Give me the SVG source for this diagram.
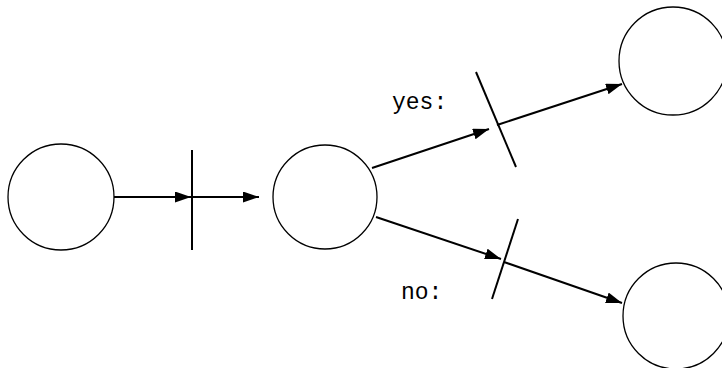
<svg xmlns="http://www.w3.org/2000/svg" width="722" height="368" viewBox="0 0 722 368">
<style>
.node{fill:#fff;stroke:#000;stroke-width:1.3}
.edge{fill:none;stroke:#000;stroke-width:2}
.bar{fill:none;stroke:#000;stroke-width:2}
.lbl{font-family:"Liberation Mono","Courier New",monospace;font-size:23px;fill:#000}
</style>
<defs>
<marker id="arr" markerUnits="userSpaceOnUse" markerWidth="16" markerHeight="12" refX="16" refY="5.5" orient="auto">
<path d="M0,0 L16,5.5 L0,11 z" fill="#000"/>
</marker>
</defs>
<g id="n1"><circle class="node" cx="61" cy="197" r="53"/></g>
<g id="n2"><circle class="node" cx="325" cy="197" r="52"/></g>
<g id="n3"><circle class="node" cx="673" cy="61" r="54"/></g>
<g id="n4"><circle class="node" cx="676" cy="316" r="53"/></g>
<g id="t1"><line class="bar" x1="192" y1="150" x2="192" y2="250"/></g>
<g id="t2"><line class="bar" x1="476" y1="72" x2="516" y2="167"/><text class="lbl" x="392" y="109">yes:</text></g>
<g id="t3"><line class="bar" x1="518" y1="219" x2="492" y2="299"/><text class="lbl" x="401" y="299">no:</text></g>
<g id="connectors">
<line class="edge" x1="114" y1="197" x2="191" y2="197" marker-end="url(#arr)"/>
<line class="edge" x1="192" y1="197" x2="259" y2="197" marker-end="url(#arr)"/>
<line class="edge" x1="372" y1="168" x2="489" y2="129" marker-end="url(#arr)"/>
<line class="edge" x1="497" y1="125" x2="622" y2="84" marker-end="url(#arr)"/>
<line class="edge" x1="376" y1="217" x2="501" y2="259" marker-end="url(#arr)"/>
<line class="edge" x1="504" y1="262" x2="622" y2="303" marker-end="url(#arr)"/>
</g>
</svg>
